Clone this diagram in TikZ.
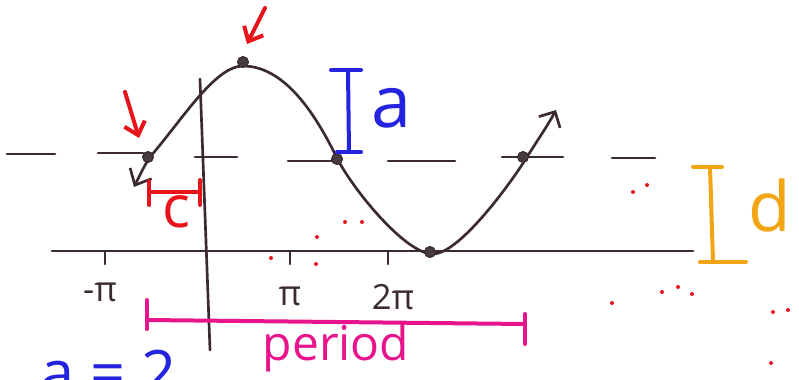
\documentclass[tikz,border=0pt]{standalone}
\usepackage{fontspec}
\setmainfont{Open Sans}
\usetikzlibrary{arrows.meta}
\definecolor{ink}{HTML}{3B2A33}
\definecolor{inkblue}{HTML}{2323E0}
\definecolor{inkred}{HTML}{E8141C}
\definecolor{inkorange}{HTML}{F2A514}
\definecolor{inkmag}{HTML}{E8148C}
\tikzset{
  pen/.style={ink, line width=2pt},
  dot/.style={circle, fill=ink!80!gray, draw=ink, line width=0.8pt, inner sep=0pt, minimum size=8pt},
  redarrow/.style={inkred, line width=3pt, -{Straight Barb[length=9pt,width=16pt,line width=3pt]}},
  bar/.style={line width=3pt},
  hand/.style={inner sep=0pt},
  spot/.style={circle, fill=inkred, inner sep=0pt, minimum size=3pt},
}
\begin{document}
\begin{tikzpicture}[x=0.75pt,y=-0.75pt, line cap=round, line join=round]
\useasboundingbox (0,0) rectangle (799,379);
\clip (0,0) rectangle (799,379);
% dashed midline
\foreach \a/\b/\y in {7/55/154, 98/143/153, 195/237/157, 288/333/161, 388/455/161, 502/563/157, 612/655/158}
  \draw[pen] (\a,\y) -- (\b,\y);
% axes
\coordinate (xl) at (52,251);
\coordinate (xr) at (693,251);
\coordinate (yt) at (200,79);
\coordinate (yb) at (210,350);
\draw[pen] (xl) -- (xr);
\draw[pen] (yt) -- (yb);
% ticks
\coordinate (t1) at (105,252); \coordinate (t1b) at (105,264);
\coordinate (t2) at (290,252); \coordinate (t2b) at (290,264);
\coordinate (t3) at (388,252); \coordinate (t3b) at (388,264);
\draw[pen] (t1) -- (t1b);
\draw[pen] (t2) -- (t2b);
\draw[pen] (t3) -- (t3b);
\node[hand, ink, font=\fontsize{26}{26}\selectfont] (lmpi) at (100,292) {-π};
\node[hand, ink, font=\fontsize{26}{26}\selectfont] (lpi) at (290,296) {π};
\node[hand, ink, font=\fontsize{26}{26}\selectfont] (l2pi) at (393,297) {2π};
% dots on the curve
\node[dot] (p1) at (148,157) {};
\node[dot] (p2) at (243,62) {};
\node[dot] (p3) at (337,159) {};
\node[dot] (p4) at (430,252) {};
\node[dot] (p5) at (523,157) {};
% sine curve (hand drawn)
\coordinate (cs) at (134,187);
\coordinate (ce) at (556,110);
\draw[pen, {Straight Barb[length=10pt,width=18pt,line width=2pt]}-{Straight Barb[length=9pt,width=18pt,line width=2pt]}]
  (cs) .. controls (139,177) and (144,166) .. (150,157)
       .. controls (182,120) and (215,66) .. (243,66)
       .. controls (290,66) and (322,128) .. (337,158)
       .. controls (352,188) and (405,254) .. (433,254)
       .. controls (458,254) and (507,189) .. (527,157)
       .. controls (537,141) and (548,125) .. (ce);
\node[dot] at (p1) {};
\node[dot] at (p2) {};
\node[dot] at (p3) {};
\node[dot] at (p4) {};
\node[dot] at (p5) {};
% red arrows
\coordinate (r1s) at (125,92); \coordinate (r1e) at (139,138);
\coordinate (r2s) at (265,8); \coordinate (r2e) at (247,44);
\draw[redarrow] (r1s) -- (r1e);
\draw[redarrow] (r2s) -- (r2e);
% c bracket
\coordinate (c1) at (149,192); \coordinate (c2) at (200,192);
\draw[inkred, bar] (c1) -- (c2);
\draw[inkred, bar] (149,181) -- (149,205);
\draw[inkred, bar] (200,180) -- (200,205);
\node[hand, inkred, font=\fontsize{44}{44}\selectfont] (lc) at (176,212) {c};
% a bracket
\coordinate (a1) at (348,70); \coordinate (a2) at (349,152);
\draw[inkblue, bar] (a1) -- (a2);
\draw[inkblue, bar] (331,70) -- (361,70);
\draw[inkblue, bar] (337,152) -- (361,152);
\node[hand, inkblue, font=\fontsize{54}{54}\selectfont] (la) at (392,108) {a};
% d bracket
\coordinate (d1) at (710,167); \coordinate (d2) at (713,262);
\draw[inkorange, bar] (d1) -- (d2);
\draw[inkorange, bar] (693,167) -- (722,167);
\draw[inkorange, bar] (700,262) -- (746,262);
\node[hand, inkorange, font=\fontsize{52}{52}\selectfont] (ld) at (770,205) {d};
% period bracket
\coordinate (q1) at (147,320); \coordinate (q2) at (525,324);
\draw[inkmag, bar] (q1) -- (q2);
\draw[inkmag, bar] (147,300) -- (147,329);
\draw[inkmag, bar] (525,314) -- (525,344);
\node[hand, inkmag, font=\fontsize{36}{36}\selectfont] (lp) at (336,348) {period};
% a = 2 (cut off at the bottom, as in the reference)
\node[hand, inkblue, font=\fontsize{46}{46}\selectfont, anchor=north west] (eq) at (40,350) {a = 2};
% stray red ink spots
\foreach \p in {(345,222),(362,222),(317,237),(271,258),(316,264),(647,185),(633,192),(662,292),(678,287),(692,294),(773,312),(788,310),(771,363),(612,303)}
  \node[spot] at \p {};
\end{tikzpicture}
\end{document}
